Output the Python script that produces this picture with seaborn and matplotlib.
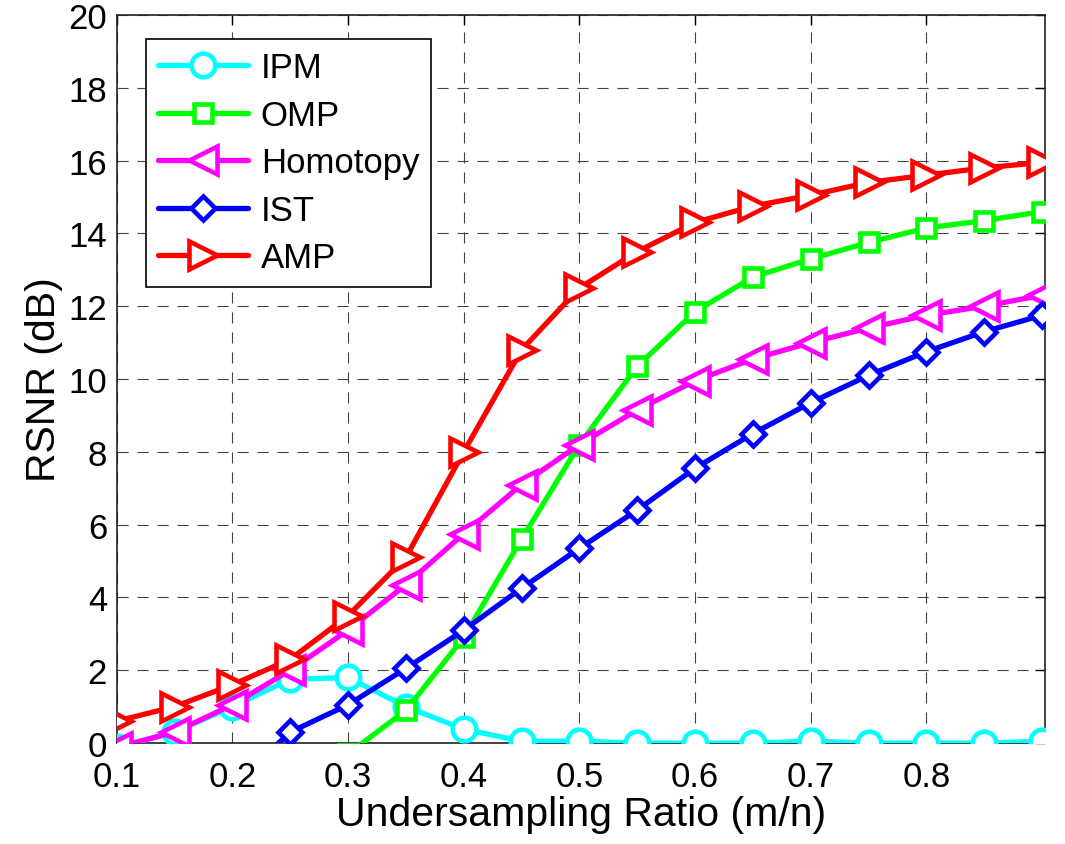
import numpy as np
import pandas as pd
import matplotlib
matplotlib.use("Agg")
import matplotlib.pyplot as plt
import seaborn as sns

ratio = [0.10, 0.15, 0.20, 0.25, 0.30, 0.35, 0.40, 0.45, 0.50,
         0.55, 0.60, 0.65, 0.70, 0.75, 0.80, 0.85, 0.90]
ipm = [-0.12, 0.30, 1.00, 1.75, 1.80, 1.00, 0.38, 0.05, 0.05,
       0.00, 0.00, 0.00, 0.05, 0.00, 0.00, 0.00, 0.05]
omp = [-3.2, -2.6, -2.0, -1.2, -0.3, 0.90, 2.90, 5.60, 8.20,
       10.35, 11.85, 12.80, 13.30, 13.75, 14.15, 14.35, 14.60]
homotopy = [-0.12, 0.30, 1.05, 2.00, 3.10, 4.35, 5.75, 7.10, 8.20,
            9.15, 9.95, 10.55, 11.00, 11.40, 11.75, 12.00, 12.30]
ist = [-2.6, -1.9, -1.2, 0.30, 1.05, 2.05, 3.10, 4.25, 5.35,
       6.40, 7.55, 8.50, 9.35, 10.10, 10.75, 11.30, 11.75]
amp = [0.60, 1.00, 1.60, 2.30, 3.50, 5.10, 8.00, 10.80, 12.50,
       13.50, 14.30, 14.75, 15.05, 15.40, 15.60, 15.80, 15.95]

series_names = ["IPM", "OMP", "Homotopy", "IST", "AMP"]
series_values = [ipm, omp, homotopy, ist, amp]
x_ticks = [0.1, 0.2, 0.3, 0.4, 0.5, 0.6, 0.7, 0.8]
y_ticks = [0, 2, 4, 6, 8, 10, 12, 14, 16, 18, 20]

colors = {"IPM": "#00FFFF", "OMP": "#00FF00", "Homotopy": "#FF00FF",
          "IST": "#0000FF", "AMP": "#FF0000"}
markers = {"IPM": "o", "OMP": "s", "Homotopy": "<", "IST": "D", "AMP": ">"}
msizes = {"IPM": 17, "OMP": 13, "Homotopy": 20, "IST": 12, "AMP": 20}

sns.set_style("white")
plt.rcParams["font.family"] = ["Liberation Sans", "DejaVu Sans"]
plt.rcParams["text.color"] = "black"
plt.rcParams["axes.labelcolor"] = "black"
plt.rcParams["xtick.color"] = "black"
plt.rcParams["ytick.color"] = "black"

fig = plt.figure(figsize=(10.65, 8.45), dpi=100)
ax = fig.add_axes([0.1096, 0.1195, 0.8716, 0.8616])

for name, vals in zip(series_names, series_values):
    df = pd.DataFrame({"ratio": ratio, "rsnr": vals})
    sns.lineplot(data=df, x="ratio", y="rsnr", ax=ax, color=colors[name],
                 marker=markers[name], markersize=msizes[name],
                 markerfacecolor="white", markeredgecolor=colors[name],
                 markeredgewidth=3.3, linewidth=3.8, label=name,
                 zorder=3)

ax.set_xlim(0.1, 0.9025)
ax.set_ylim(0, 20)
ax.set_xticks(x_ticks)
ax.set_xticklabels([f"{t:.1f}" for t in x_ticks])
ax.set_yticks(y_ticks)
ax.set_yticklabels([str(t) for t in y_ticks])
ax.tick_params(direction="in", length=7, width=1, colors="black",
               labelsize=25, top=True, right=True)
ax.tick_params(axis="x", pad=12)
ax.tick_params(axis="y", pad=7)
ax.grid(True, color="#444444", linestyle=(0, (10, 8)), linewidth=0.8)
for s in ax.spines.values():
    s.set_visible(True)
    s.set_color("#222222")
    s.set_linewidth(1.2)

ax.set_xlabel("Undersampling Ratio (m/n)", fontsize=29.5, labelpad=2,
              color="black")
ax.set_ylabel("RSNR (dB)", fontsize=29.5, labelpad=4, color="black")

leg = ax.legend(loc="upper left", bbox_to_anchor=(0.0316, 0.967),
                borderaxespad=0, fontsize=25, handlelength=2.6,
                handletextpad=0.35, labelspacing=0.42, fancybox=False,
                framealpha=1, edgecolor="black", borderpad=0.35)
leg.get_frame().set_linewidth(1.2)
for t in leg.get_texts():
    t.set_color("black")

fig.savefig("out.png", dpi=100)
